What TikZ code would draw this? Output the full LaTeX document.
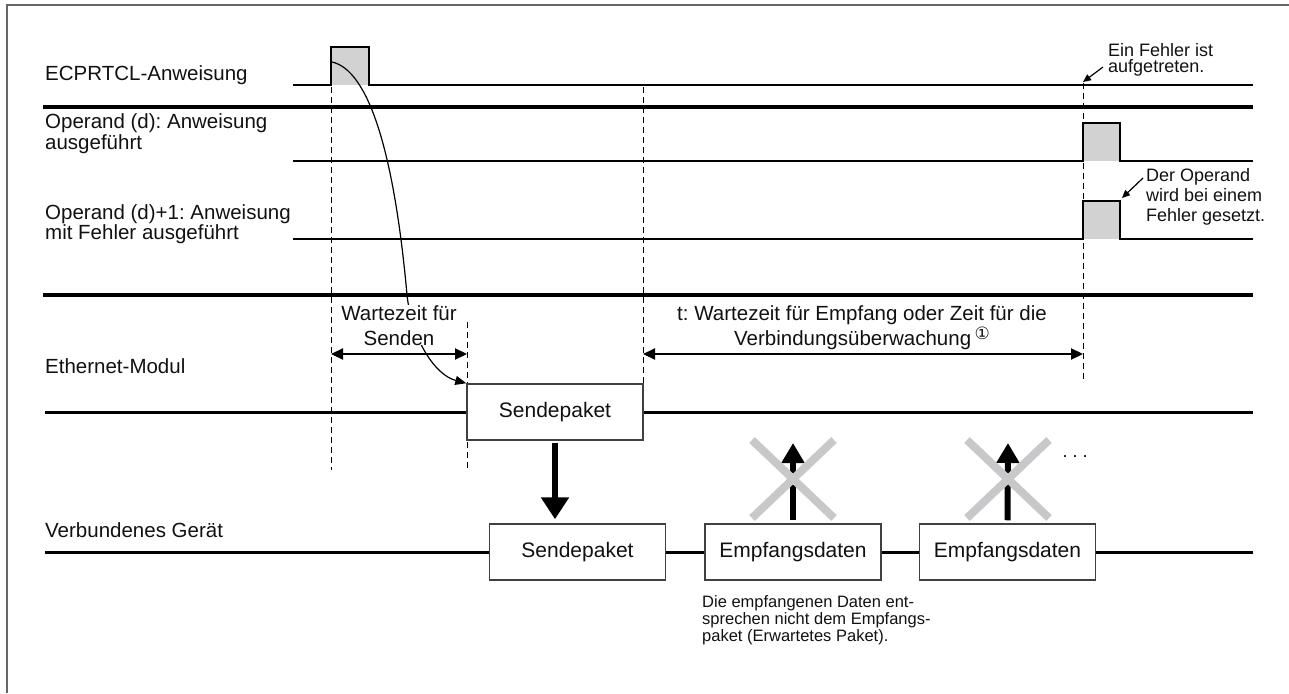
\documentclass[tikz,border=0pt]{standalone}
\usepackage{fontspec}
\setmainfont{Liberation Sans}
\newfontfamily\symfont{DejaVu Sans}
\usetikzlibrary{arrows.meta}
\definecolor{pulsegray}{HTML}{D2D2D2}
\definecolor{crossgray}{HTML}{C8C8CA}
\definecolor{framegray}{HTML}{666666}
\definecolor{boxgray}{HTML}{404040}
\definecolor{inkblack}{HTML}{111111}
\frenchspacing
\begin{document}
\frenchspacing
\begin{tikzpicture}[x=1pt,y=-1pt,
  lbl/.style={anchor=base west, inner sep=0pt, align=left, text=inkblack},
  mainfs/.style={font=\fontsize{20.5}{21}\selectfont},
  notefs/.style={font=\fontsize{18}{17}\selectfont},
  packet/.style={draw=boxgray, line width=1.5pt, fill=white, minimum width=176pt,
     minimum height=56pt, inner sep=0pt, text=inkblack, font=\fontsize{21}{21}\selectfont},
  vdash/.style={line width=1pt, dash pattern=on 6pt off 4pt},
  sig/.style={line width=1.6pt, line join=miter},
  sigmed/.style={line width=2.2pt, line join=miter},
  sep/.style={line width=4pt},
  bus/.style={line width=3pt},
  dbl/.style={line width=2.2pt, {Triangle[length=12pt,width=11pt]}-{Triangle[length=12pt,width=11pt]}},
  note/.style={line width=1.2pt, -{Triangle[length=8pt,width=7pt]}},
  bigdown/.style={line width=6pt, -{Triangle[length=22pt,width=27pt]}},
  bigup/.style={line width=6pt, -{Triangle[length=20pt,width=22pt]}},
  cross/.style={crossgray, line width=8pt},
]
\useasboundingbox (0,0) rectangle (1289,693);
% frame
\draw[framegray, line width=2pt] (7,693) -- (7,5) -- (1289,5);

% dashed time markers
\draw[vdash] (331,87) -- (331,470);
\draw[vdash] (467,322) -- (467,470);
\draw[vdash] (643,87) -- (643,384);
\draw[vdash] (1083,83) -- (1083,382);

% pulses
\fill[pulsegray] (331,47) rectangle (369,85);
\fill[pulsegray] (1083,123) rectangle (1120,161);
\fill[pulsegray] (1083,201) rectangle (1120,239);
\draw[sig] (293,85) -- (331,85) -- (331,47) -- (369,47) -- (369,85) -- (1253,85);
\draw[sigmed] (293,161) -- (1083,161) -- (1083,123) -- (1120,123) -- (1120,161) -- (1253,161);
\draw[sigmed] (293,239) -- (1083,239) -- (1083,201) -- (1120,201) -- (1120,239) -- (1253,239);

% Ethernet module
\node[packet] (send1) at (555,412) {Sendepaket};
\coordinate (ethL) at (45,412);
\coordinate (ethR) at (1253,412);
\draw[bus] (ethL) -- (send1.west);
\draw[bus] (send1.east) -- (ethR);

% connected device
\node[packet] (send2) at (577.5,552) {Sendepaket};
\node[packet] (emp1) at (793,552) {Empfangsdaten};
\node[packet] (emp2) at (1007.5,552) {Empfangsdaten};
\coordinate (devL) at (45,552);
\coordinate (devR) at (1253,552);
\draw[bus] (devL) -- (send2.west);
\draw[bus] (send2.east) -- (emp1.west);
\draw[bus] (emp1.east) -- (emp2.west);
\draw[bus] (emp2.east) -- (devR);

% curved arrow
\coordinate (cstart) at (332,62);
\draw[line width=1.2pt, -{Triangle[length=11pt,width=9pt]}] (cstart) .. controls (368,70) and (394,150) .. (407,295)
   .. controls (412,340) and (435,375) .. (send1.north west);

% interval labels
\node[lbl, anchor=base, align=center, fill=white, font=\fontsize{20.5}{25}\selectfont] (wlab) at (399,345) {Wartezeit für\\Senden};
\node[lbl, anchor=base, align=center, font=\fontsize{20.5}{25}\selectfont] (tlab) at (862,345)
  {t: Wartezeit für Empfang oder Zeit für die\\Verbindungsüberwachung\,\raisebox{6pt}{\fontsize{17}{17}\symfont ①}};

% separators
\draw[sep] (43,107) -- (1253,107);
\draw[sep] (43,295) -- (1253,295);

% interval arrows
\coordinate (w1) at (331,354);
\coordinate (w2) at (467,354);
\coordinate (t1) at (643,354);
\coordinate (t2) at (1083,354);
\draw[dbl] (w1) -- (w2);
\draw[dbl] (t1) -- (t2);

% transmit arrow
\draw[bigdown, shorten <=2pt, shorten >=4pt] (send1.south) -- (send1.south |- send2.north);

% receive arrows with crosses
\coordinate (up1) at (793,443);
\coordinate (up2) at (1008,443);
\draw[bigup, shorten <=3pt] (emp1.north) -- (up1);
\draw[bigup, shorten <=3pt] (emp2.north) -- (up2);
\draw[cross] (752,440) -- (834,518) (834,440) -- (752,518);
\draw[cross] (967,440) -- (1049,518) (1049,440) -- (967,518);
\node[anchor=base, inner sep=0pt, notefs] (dots) at (1075,457) {.\hspace{5pt}.\hspace{5pt}.};

% row labels
\node[lbl, mainfs] (l1) at (45,80) {ECPRTCL-Anweisung};
\node[lbl, mainfs] (l2) at (45,149) {Operand (d): Anweisung\\ausgeführt};
\node[lbl, font=\fontsize{20.5}{20}\selectfont] (l3) at (45,239) {Operand (d)+1: Anweisung\\mit Fehler ausgeführt};
\node[lbl, mainfs] (l4) at (45,373) {Ethernet-Modul};
\node[lbl, mainfs] (l5) at (45,537) {Verbundenes Gerät};

% annotations
\node[lbl, notefs] (n1) at (1108,73) {Ein Fehler ist\\aufgetreten.};
\coordinate (n1a) at (1103,67);
\coordinate (n1b) at (1083,82);
\draw[note] (n1a) -- (n1b);
\node[lbl, font=\fontsize{18}{20}\selectfont] (n2) at (1146,221) {Der Operand\\wird bei einem\\Fehler gesetzt.};
\coordinate (n2a) at (1143,178);
\coordinate (n2b) at (1122,198);
\draw[note] (n2a) -- (n2b);
\node[lbl, font=\fontsize{16.5}{17}\selectfont] (n3) at (702,641) {Die empfangenen Daten ent-\\sprechen nicht dem Empfangs-\\paket (Erwartetes Paket).};
\end{tikzpicture}
\end{document}
